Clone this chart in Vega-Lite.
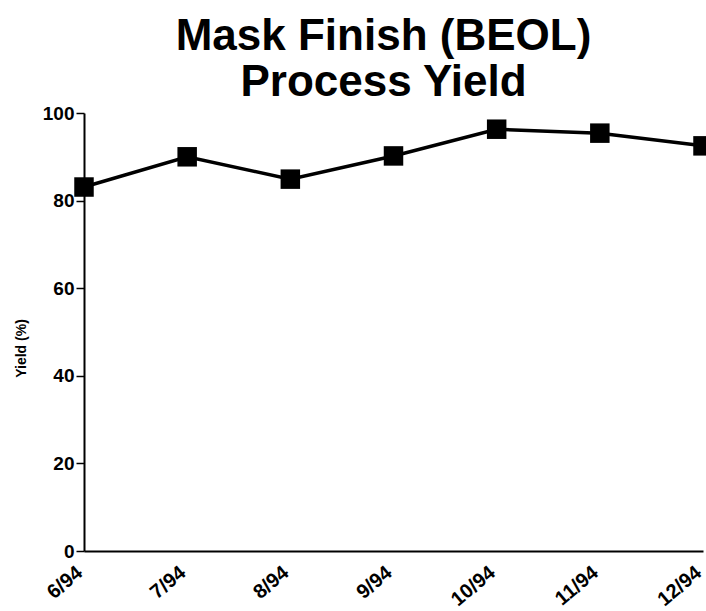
{
  "$schema": "https://vega.github.io/schema/vega-lite/v6.json",
  "width": 619,
  "height": 438,
  "autosize": "none",
  "padding": {"left": 84, "top": 113, "right": 3, "bottom": 60},
  "background": "white",
  "title": {
    "text": ["Mask Finish (BEOL)", "Process Yield"],
    "font": "Liberation Sans",
    "fontSize": 44,
    "fontWeight": "bold",
    "lineHeight": 46,
    "color": "black",
    "anchor": "middle",
    "offset": -1,
    "dx": -10
  },
  "data": {
    "values": [
      {"month": "6/94", "yield": 83.1},
      {"month": "7/94", "yield": 90.0},
      {"month": "8/94", "yield": 84.9},
      {"month": "9/94", "yield": 90.2},
      {"month": "10/94", "yield": 96.3},
      {"month": "11/94", "yield": 95.4},
      {"month": "12/94", "yield": 92.5}
    ]
  },
  "config": {
    "view": {"stroke": null},
    "axis": {"grid": false, "domainColor": "black", "domainWidth": 2, "tickColor": "black", "labelColor": "black", "titleColor": "black", "labelFont": "Liberation Sans", "labelFontWeight": "bold", "titleFont": "Liberation Sans", "titleFontWeight": "bold"}
  },
  "layer": [
    {
      "mark": {"type": "line", "color": "black", "strokeWidth": 3.5},
      "encoding": {
        "x": {"field": "month", "type": "ordinal", "sort": null, "scale": {"type": "point", "padding": 0},
          "axis": {"title": null, "ticks": false, "labelAngle": -40, "labelAlign": "right", "labelBaseline": "top", "labelPadding": 11, "labelOffset": -11, "labelFontSize": 20, "labelBound": false, "labelOverlap": false}},
        "y": {"field": "yield", "type": "quantitative", "scale": {"domain": [0, 100]},
          "axis": {"title": "Yield (%)", "titleFontSize": 14, "titlePadding": 14, "titleY": 235, "values": [0, 20, 40, 60, 80, 100], "tickSize": 8, "tickWidth": 1.5, "labelFontSize": 19, "labelPadding": 2}}
      }
    },
    {
      "mark": {"type": "square", "color": "black", "size": 380, "opacity": 1, "filled": true},
      "encoding": {
        "x": {"field": "month", "type": "ordinal", "sort": null},
        "y": {"field": "yield", "type": "quantitative"}
      }
    }
  ]
}
